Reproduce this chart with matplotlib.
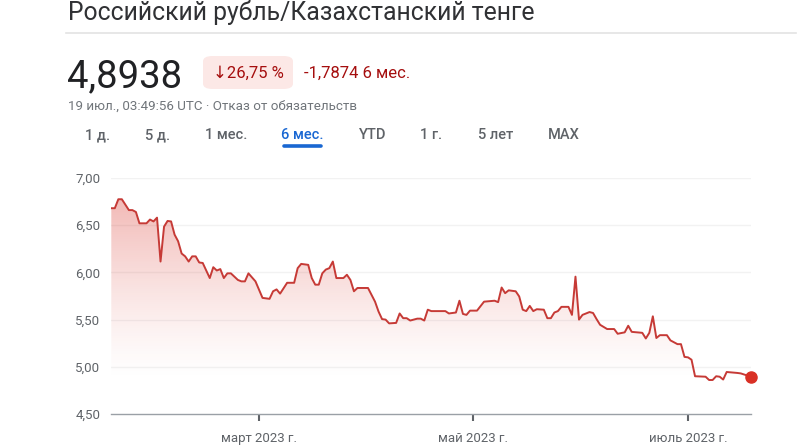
import matplotlib
matplotlib.use('Agg')
import matplotlib.pyplot as plt
import matplotlib.dates as mdates
from matplotlib.patches import FancyBboxPatch
import numpy as np
import pandas as pd

plt.rcParams['font.family'] = ['Roboto', 'DejaVu Sans']

# RUB/KZT, 6 months
dates = ['2023-01-18', '2023-01-19', '2023-01-20', '2023-01-21', '2023-01-23', '2023-01-24',
         '2023-01-25', '2023-01-26', '2023-01-28', '2023-01-29', '2023-01-30', '2023-01-31',
         '2023-02-01', '2023-02-02', '2023-02-03', '2023-02-04', '2023-02-05', '2023-02-06',
         '2023-02-07', '2023-02-08', '2023-02-09', '2023-02-10', '2023-02-11', '2023-02-12',
         '2023-02-13', '2023-02-15', '2023-02-16', '2023-02-17', '2023-02-18', '2023-02-19',
         '2023-02-20', '2023-02-21', '2023-02-23', '2023-02-24', '2023-02-25', '2023-02-26',
         '2023-02-28', '2023-03-02', '2023-03-04', '2023-03-05', '2023-03-06', '2023-03-07',
         '2023-03-09', '2023-03-11', '2023-03-12', '2023-03-13', '2023-03-15', '2023-03-16',
         '2023-03-17', '2023-03-18', '2023-03-19', '2023-03-20', '2023-03-21', '2023-03-22',
         '2023-03-23', '2023-03-25', '2023-03-26', '2023-03-27', '2023-03-28', '2023-03-29',
         '2023-04-01', '2023-04-03', '2023-04-04', '2023-04-05', '2023-04-06', '2023-04-07',
         '2023-04-09', '2023-04-10', '2023-04-11', '2023-04-12', '2023-04-13', '2023-04-15',
         '2023-04-16', '2023-04-17', '2023-04-18', '2023-04-19', '2023-04-23', '2023-04-24',
         '2023-04-26', '2023-04-27', '2023-04-28', '2023-04-29', '2023-04-30', '2023-05-02',
         '2023-05-04', '2023-05-07', '2023-05-08', '2023-05-09', '2023-05-10', '2023-05-11',
         '2023-05-13', '2023-05-14', '2023-05-15', '2023-05-16', '2023-05-17', '2023-05-18',
         '2023-05-19', '2023-05-21', '2023-05-22', '2023-05-23', '2023-05-24', '2023-05-25',
         '2023-05-26', '2023-05-28', '2023-05-29', '2023-05-30', '2023-05-31', '2023-06-01',
         '2023-06-03', '2023-06-04', '2023-06-05', '2023-06-06', '2023-06-08', '2023-06-10',
         '2023-06-11', '2023-06-13', '2023-06-14', '2023-06-15', '2023-06-18', '2023-06-19',
         '2023-06-20', '2023-06-21', '2023-06-22', '2023-06-23', '2023-06-25', '2023-06-26',
         '2023-06-28', '2023-06-29', '2023-06-30', '2023-07-01', '2023-07-02', '2023-07-03',
         '2023-07-06', '2023-07-07', '2023-07-08', '2023-07-09', '2023-07-10', '2023-07-11',
         '2023-07-12', '2023-07-15', '2023-07-16', '2023-07-19']
rates = [6.68, 6.68, 6.775, 6.775, 6.66, 6.66,
         6.64, 6.52, 6.52, 6.56, 6.54, 6.58,
         6.115, 6.485, 6.545, 6.54, 6.40, 6.33,
         6.20, 6.17, 6.115, 6.17, 6.17, 6.105,
         6.10, 5.94, 6.055, 6.02, 6.035, 5.94,
         5.99, 5.99, 5.92, 5.905, 5.905, 5.99,
         5.905, 5.73, 5.72, 5.80, 5.82, 5.775,
         5.89, 5.89, 6.045, 6.09, 6.08, 5.94,
         5.87, 5.87, 5.99, 6.03, 6.045, 6.115,
         5.94, 5.94, 5.975, 5.92, 5.80, 5.835,
         5.835, 5.69, 5.585, 5.505, 5.50, 5.46,
         5.465, 5.565, 5.515, 5.515, 5.49, 5.51,
         5.51, 5.49, 5.605, 5.59, 5.59, 5.565,
         5.575, 5.70, 5.56, 5.55, 5.595, 5.595,
         5.69, 5.70, 5.685, 5.84, 5.78, 5.81,
         5.80, 5.745, 5.605, 5.59, 5.645, 5.59,
         5.61, 5.605, 5.515, 5.515, 5.575, 5.59,
         5.635, 5.635, 5.55, 5.955, 5.50, 5.55,
         5.58, 5.57, 5.505, 5.445, 5.40, 5.40,
         5.35, 5.365, 5.435, 5.37, 5.36, 5.30,
         5.36, 5.535, 5.305, 5.335, 5.335, 5.28,
         5.24, 5.24, 5.105, 5.10, 5.075, 4.90,
         4.895, 4.86, 4.86, 4.90, 4.895, 4.865,
         4.945, 4.935, 4.93, 4.8938]

yticks = [4.5, 5.0, 5.5, 6.0, 6.5, 7.0]
xtick_dates = ['2023-03-01', '2023-05-01', '2023-07-01']
xtick_labels = ['март 2023 г.', 'май 2023 г.', 'июль 2023 г.']
tabs = ['1 д.', '5 д.', '1 мес.', '6 мес.', 'YTD', '1 г.', '5 лет', 'MAX']
tab_x = [98, 158, 226, 302, 373, 431, 496, 564]

W, H = 800, 447
fig = plt.figure(figsize=(W / 100, H / 100), dpi=100)

def fx(px): return px / W
def fy(py): return 1 - py / H

# ---- header
fig.text(fx(68), fy(20), 'Российский рубль/Казахстанский тенге', fontsize=17.8,
         color='#303134', va='baseline', ha='left')
fig.add_artist(plt.Line2D([fx(66), fx(796)], [fy(33), fy(33)], color='#e3e3e3', lw=1.2))
fig.text(fx(67), fy(87), '4,8938', fontsize=27.5, color='#202124', va='baseline', ha='left')

badge = FancyBboxPatch((fx(203), fy(89)), fx(293) - fx(203), fy(56) - fy(89),
                       boxstyle='round,pad=0,rounding_size=0.012',
                       transform=fig.transFigure, facecolor='#fce8e6', edgecolor='none')
fig.add_artist(badge)
fig.text(fx(248), fy(73), '↓26,75 %', fontsize=12, color='#a50e0e', va='center', ha='center')
fig.text(fx(304), fy(73), '-1,7874 6 мес.', fontsize=12, color='#a50e0e', va='center', ha='left')
fig.text(fx(68), fy(106), '19 июл., 03:49:56 UTC · Отказ от обязательств', fontsize=9.6,
         color='#70757a', va='center', ha='left')

for t, x in zip(tabs, tab_x):
    active = t == '6 мес.'
    fig.text(fx(x), fy(135), t, fontsize=10.5, ha='center', va='center', fontweight='medium',
             color='#1967d2' if active else '#5f6368')
fig.add_artist(plt.Line2D([fx(284), fx(321)], [fy(146), fy(146)], color='#1967d2', lw=2.6,
                          solid_capstyle='round'))

# ---- chart
x = pd.to_datetime(dates)
xn = mdates.date2num(x)
y = np.array(rates)

ax = fig.add_axes([fx(111.3), fy(414), fx(751.3) - fx(111.3), fy(178) - fy(414)])
ax.set_xlim(xn[0], mdates.date2num(pd.Timestamp('2023-07-19')))
ax.set_ylim(4.5, 7.0)

for v in yticks[1:]:
    ax.axhline(v, color='#f2f2f2', lw=1, zorder=0)

# gradient fill under the line
grad_y = np.linspace(7.0, 4.5, 300)
alpha = np.clip((grad_y - 4.85) / (6.8 - 4.85), 0, 1) ** 1.3 * 0.34
img = np.zeros((300, 1, 4))
img[:, 0, 0] = 0.85
img[:, 0, 1] = 0.19
img[:, 0, 2] = 0.15
img[:, 0, 3] = alpha
poly = ax.fill_between(xn, y, 4.5, color='none', lw=0)
im = ax.imshow(img, aspect='auto', extent=[xn[0], xn[-1], 4.5, 7.0], origin='upper', zorder=1)
im.set_clip_path(poly.get_paths()[0], transform=ax.transData)

ax.plot(xn, y, color='#c63a36', lw=1.4, zorder=3, solid_joinstyle='round')
ax.plot(xn[-1], y[-1], 'o', color='#d93025', markersize=8, zorder=4, clip_on=False)

for s in ['top', 'right', 'left']:
    ax.spines[s].set_visible(False)
ax.spines['bottom'].set_color('#9aa0a6')
ax.spines['bottom'].set_linewidth(1)

ax.set_yticks(yticks)
ax.set_yticklabels([f'{v:.2f}'.replace('.', ',') for v in yticks])
ax.tick_params(axis='y', length=0, pad=8, labelsize=9.5, labelcolor='#5f6368')
ax.set_xticks(mdates.date2num(pd.to_datetime(xtick_dates)))
ax.set_xticklabels(xtick_labels)
ax.tick_params(axis='x', length=5, width=1.5, color='#5f6368', pad=8,
               labelsize=9.5, labelcolor='#5f6368')

fig.savefig('out.png', dpi=100, facecolor='white')
